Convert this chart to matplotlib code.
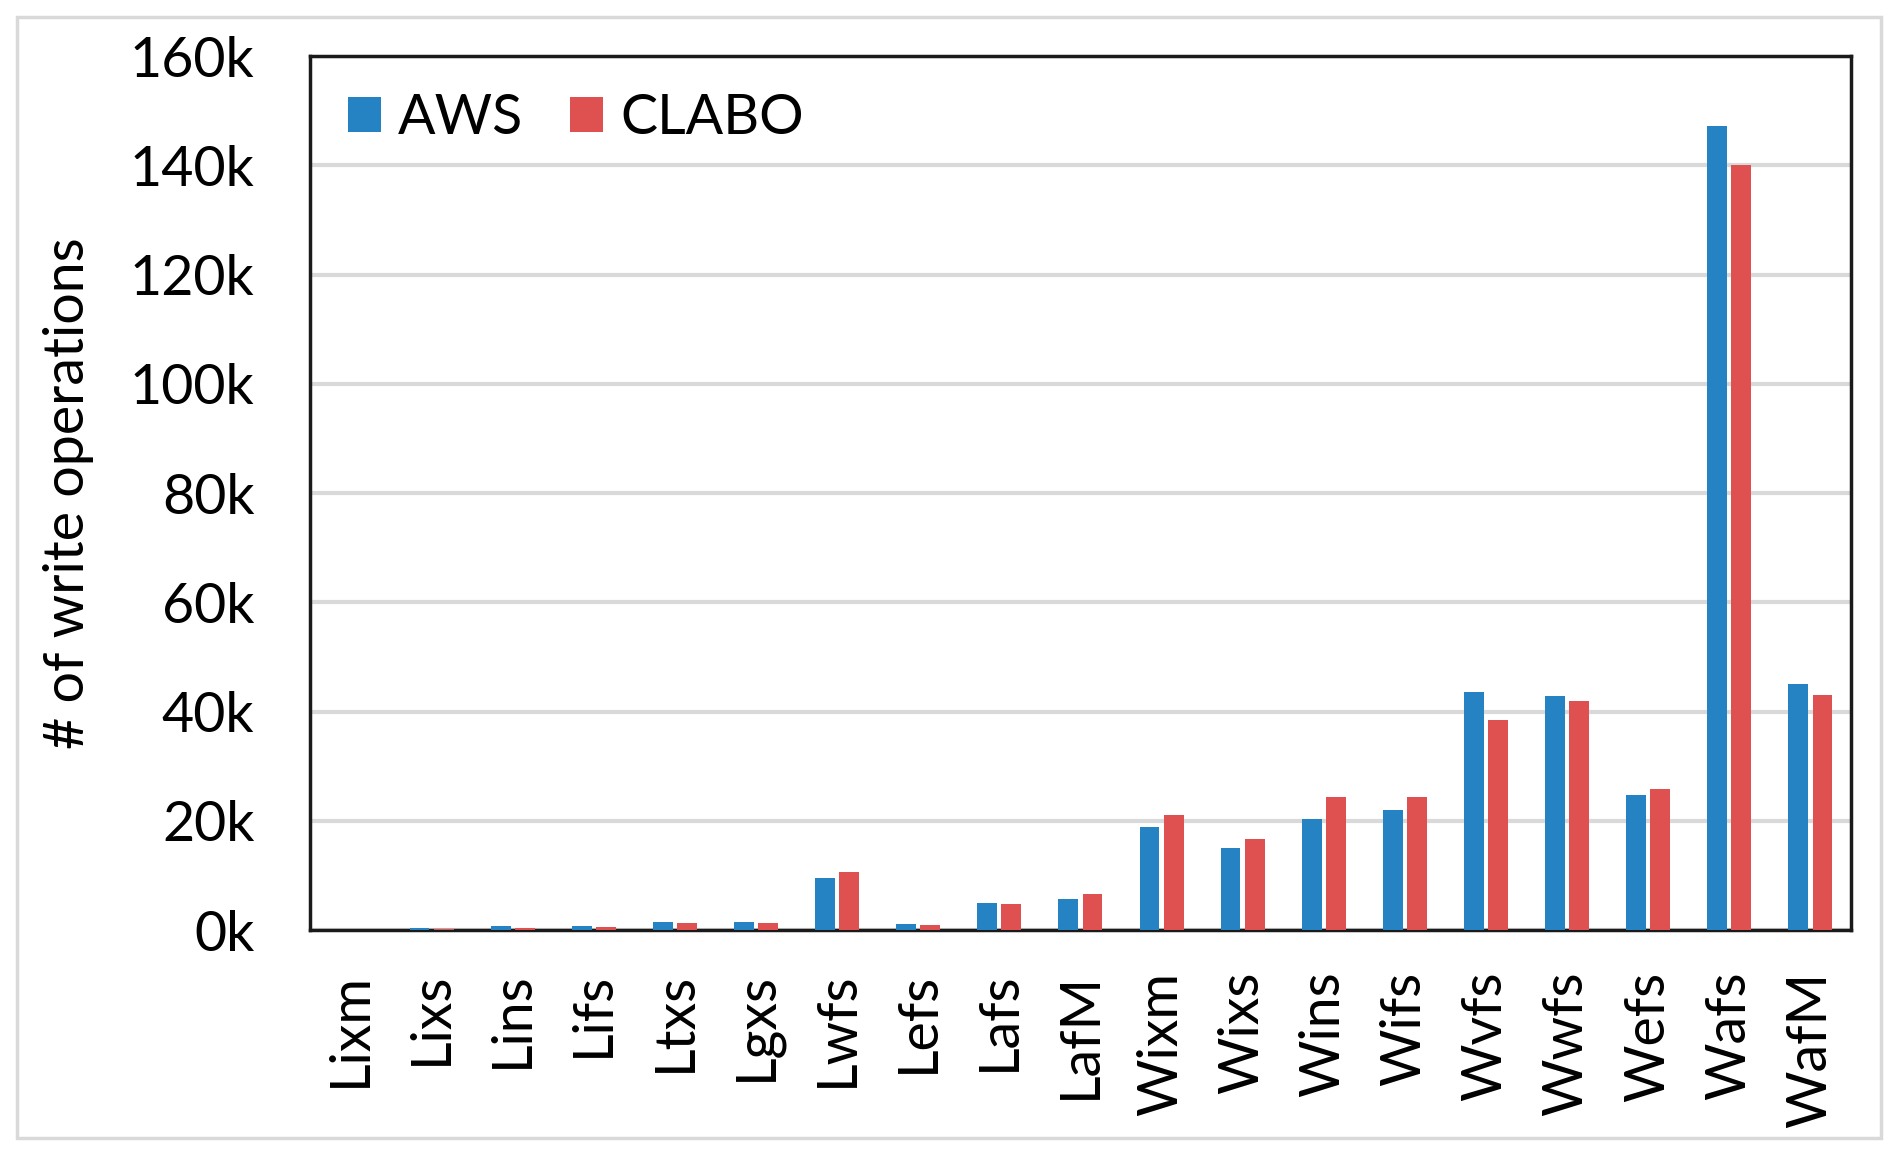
import matplotlib
matplotlib.use("Agg")
import matplotlib.pyplot as plt
import matplotlib.patches as patches
import numpy as np

categorias = ["Lixm", "Lixs", "Lins", "Lifs", "Ltxs", "Lgxs", "Lwfs", "Lefs", "Lafs", "LafM",
              "Wixm", "Wixs", "Wins", "Wifs", "Wvfs", "Wwfs", "Wefs", "Wafs", "WafM"]
aws = [0, 350, 700, 700, 1450, 1450, 9500, 1050, 4900, 5700,
       18900, 15100, 20400, 21900, 43500, 42900, 24700, 147100, 45000]
clabo = [0, 150, 350, 500, 1250, 1250, 10600, 850, 4700, 6600,
         21100, 16600, 24300, 24300, 38400, 42000, 25900, 140000, 43100]
yticks = [0, 20000, 40000, 60000, 80000, 100000, 120000, 140000, 160000]
ylabels = ["0k", "20k", "40k", "60k", "80k", "100k", "120k", "140k", "160k"]

plt.rcParams['font.family'] = ['Lato', 'DejaVu Sans']
fs = 40

fig = plt.figure(figsize=(18.98, 11.55), dpi=100)
ax = fig.add_axes([0.1633, 0.1948, 0.9752 - 0.1633, 0.9515 - 0.1948])

x = np.arange(len(categorias))
w = 0.245
ax.bar(x - 0.149, aws, width=w, color="#2583C3", label="AWS", zorder=3)
ax.bar(x + 0.149, clabo, width=w, color="#DF5050", label="CLABO", zorder=3)

ax.set_xlim(-0.5, len(categorias) - 0.5)
ax.set_ylim(0, 160000)
ax.set_yticks(yticks)
ax.set_yticklabels(ylabels, fontsize=fs)
ax.set_xticks(x)
ax.set_xticklabels(categorias, rotation=90, fontsize=fs)
ax.tick_params(axis='y', length=0, pad=40)
ax.tick_params(axis='x', length=0, pad=30)
ax.yaxis.grid(True, color="#D9D9D9", linewidth=3, zorder=0)
ax.set_axisbelow(True)
for s in ax.spines.values():
    s.set_linewidth(2.5)
    s.set_color("#1a1a1a")

ax.set_ylabel("# of write operations", fontsize=fs)
ax.yaxis.set_label_coords(-0.14, 0.5)

ax.legend(loc="upper left", fontsize=fs, frameon=False, ncol=2,
          handlelength=0.6, handleheight=0.6, handletextpad=0.3,
          columnspacing=0.85, bbox_to_anchor=(-0.008, 1.015), borderaxespad=0.5)

fig.patches.append(patches.Rectangle((17 / 1898, 17 / 1155), 1864 / 1898, 1121 / 1155,
                                     transform=fig.transFigure, fill=False,
                                     edgecolor="#D9D9D9", linewidth=2.5))

fig.savefig("out.png", dpi=100)
